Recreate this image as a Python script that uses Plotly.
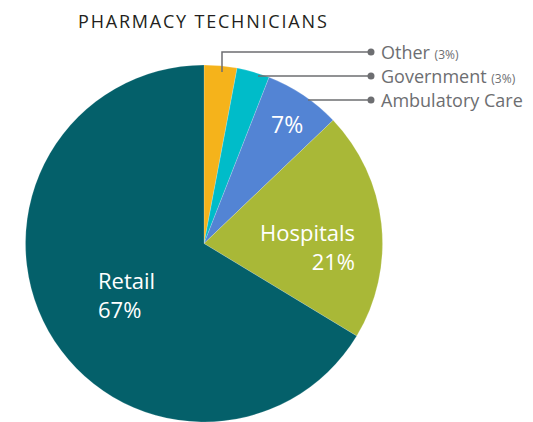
import plotly.graph_objects as go

W, H = 533, 422

labels = ["Other", "Government", "Ambulatory Care", "Hospitals", "Retail"]
values = [3, 3, 7, 21, 67]
colors = ["#F5B31B", "#00BCC9", "#5384D4", "#A9B837", "#04606A"]
title = "PHARMACY TECHNICIANS"

def px(x):
    return x / W

def py(y):
    return 1 - y / H

fig = go.Figure()
fig.add_trace(go.Pie(
    labels=labels, values=values, sort=False, direction="clockwise", rotation=0,
    marker=dict(colors=colors, line=dict(color="rgba(255,255,255,0.35)", width=0.5)),
    textinfo="none", hoverinfo="label+percent", showlegend=False,
    domain=dict(x=[px(25.5), px(382.5)], y=[0, py(65)]),
))

font = "Open Sans, Myriad Pro, sans-serif"
grey = "#6d6e71"
ann = []
spaced = "\u200a".join(title)
ann.append(dict(x=px(76), y=py(21), xref="paper", yref="paper", text=spaced,
                showarrow=False, xanchor="left", yanchor="middle",
                font=dict(family=font, size=18, color="#231f20")))

callouts = [
    ("Other", "(3%)", 52, [(222, 72), (222, 52), (371, 52)]),
    ("Government", "(3%)", 76, [(258, 76), (371, 76)]),
    ("Ambulatory Care", "", 100, [(308, 100), (371, 100)]),
]
shapes = []
for name, pct, yy, pts in callouts:
    path = "M " + " L ".join(f"{px(a)},{py(b)}" for a, b in pts)
    shapes.append(dict(type="path", xref="paper", yref="paper", path=path,
                       line=dict(color=grey, width=1.5)))
    shapes.append(dict(type="circle", xref="paper", yref="paper",
                       x0=px(367.5), x1=px(374.5), y0=py(yy + 3.5), y1=py(yy - 3.5),
                       fillcolor=grey, line=dict(width=0)))
    txt = name + (f" <span style='font-size:12px'>{pct}</span>" if pct else "")
    ann.append(dict(x=px(379), y=py(yy), xref="paper", yref="paper", text=txt,
                    showarrow=False, xanchor="left", yanchor="middle",
                    font=dict(family=font, size=18, color=grey)))

ann.append(dict(x=px(287), y=py(124), xref="paper", yref="paper", text="7%",
                showarrow=False, xanchor="center", yanchor="middle",
                font=dict(family=font, size=23, color="white")))
ann.append(dict(x=px(357), y=py(246), xref="paper", yref="paper", text="Hospitals<br>21%",
                showarrow=False, xanchor="right", yanchor="middle", align="right",
                font=dict(family=font, size=22, color="white")))
ann.append(dict(x=px(96), y=py(294), xref="paper", yref="paper", text="Retail<br>67%",
                showarrow=False, xanchor="left", yanchor="middle", align="left",
                font=dict(family=font, size=22, color="white")))

fig.update_layout(width=W, height=H, margin=dict(l=0, r=0, t=0, b=0),
                  paper_bgcolor="white", plot_bgcolor="white",
                  annotations=ann, shapes=shapes)
fig.write_html("out.html")
